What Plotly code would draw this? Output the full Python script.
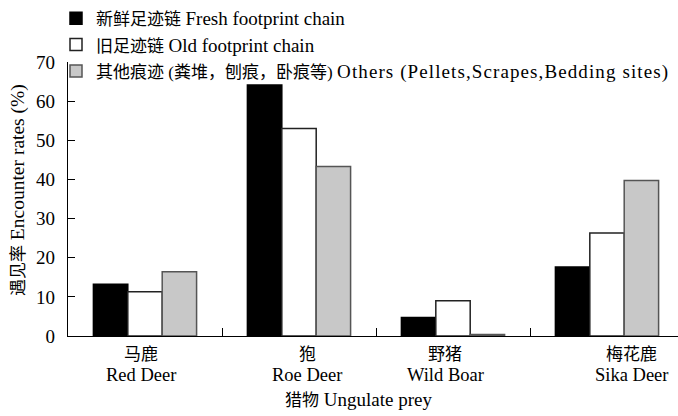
import plotly.graph_objects as go

cat_cn = ["马鹿", "狍", "野猪", "梅花鹿"]
cat_en = ["Red Deer", "Roe Deer", "Wild Boar", "Sika Deer"]
fresh = [13.2, 64.1, 4.7, 17.6]
old = [11.3, 53.0, 9.0, 26.3]
others = [16.4, 43.3, 0.4, 39.7]
series_cn = ["新鲜足迹链", "旧足迹链", "其他痕迹 (粪堆，刨痕，卧痕等)"]
series_en = ["Fresh footprint chain", "Old footprint chain", "Others (Pellets,Scrapes,Bedding sites)"]
y_ticks = [0, 10, 20, 30, 40, 50, 60, 70]
x_title_cn, x_title_en = "猎物", "Ungulate prey"
y_title_cn, y_title_en = "遇见率", "Encounter rates (%)"

W, H = 678, 416
PLOT_L, PLOT_T, PLOT_B = 68, 62, 336   # pixel frame of the plotting area
FONT = "Liberation Serif, Times New Roman, Noto Sans CJK SC, serif"
CJK = "<span style='font-size:17px'>{}</span>"
LAT = "<span style='font-size:19px'>{}</span>"
WIDE = "<span style='font-size:19px;letter-spacing:1.1px'>{}</span>"

categories = [f"{c} {e}" for c, e in zip(cat_cn, cat_en)]

styles = [
    dict(color="#000000", line=dict(color="#000000", width=1.5)),
    dict(color="#ffffff", line=dict(color="#222222", width=1.5)),
    dict(color="#c8c8c8", line=dict(color="#555555", width=1.5)),
]
en_fmt = [LAT, LAT, WIDE]

fig = go.Figure()
for cn, en, fmt, vals, st in zip(series_cn, series_en, en_fmt, [fresh, old, others], styles):
    fig.add_trace(go.Bar(x=categories, y=vals, name=CJK.format(cn) + " " + fmt.format(en), marker=st))

# category labels (slightly offset as in the reference)
label_shifts = [-4, 8, -8, 24]
for cat, cn, en, dx in zip(categories, cat_cn, cat_en, label_shifts):
    fig.add_annotation(x=cat, y=0, xref="x", yref="y", text=cn, showarrow=False,
                       yanchor="middle", yshift=-18, xshift=dx,
                       font=dict(family=FONT, size=17, color="#000"))
    fig.add_annotation(x=cat, y=0, xref="x", yref="y", text=en, showarrow=False,
                       yanchor="middle", yshift=-39, xshift=dx,
                       font=dict(family=FONT, size=18.5, color="#000"))

paper_h = PLOT_B  # margin t=0, b = H - PLOT_B
fig.add_annotation(x=358 / W, y=0, xref="paper", yref="paper",
                   text=CJK.format(x_title_cn) + " " + x_title_en, showarrow=False,
                   yanchor="middle", yshift=-63,
                   font=dict(family=FONT, size=19, color="#000"))
fig.add_annotation(x=18 / W, y=(PLOT_B - 190) / paper_h, xref="paper", yref="paper", textangle=-90,
                   text=CJK.format(y_title_cn) + " " + y_title_en, showarrow=False,
                   xanchor="center", yanchor="middle",
                   font=dict(family=FONT, size=19.5, color="#000"))

fig.update_layout(
    width=W, height=H,
    margin=dict(l=0, r=0, t=0, b=H - PLOT_B),
    paper_bgcolor="white", plot_bgcolor="white",
    barmode="group", bargap=0.33, bargroupgap=0,
    font=dict(family=FONT, size=18, color="#000"),
    legend=dict(x=56 / W, y=1.0, xanchor="left", yanchor="top",
                bgcolor="rgba(0,0,0,0)", font=dict(family=FONT, size=18, color="#000"),
                traceorder="normal", itemwidth=30),
    showlegend=True,
)
fig.update_xaxes(
    domain=[PLOT_L / W, 1],
    type="category", range=[-0.5, 3.461], showline=True, linecolor="#000", linewidth=1.2,
    ticks="inside", ticklen=8, tickcolor="#000", tickson="boundaries",
    showticklabels=False, showgrid=False, zeroline=False, automargin=False,
)
fig.update_yaxes(
    domain=[0, (PLOT_B - PLOT_T) / paper_h],
    range=[0, 70], tickvals=y_ticks, showline=True, linecolor="#000", linewidth=1.2,
    ticks="inside", ticklen=7, tickcolor="#000", ticklabelstandoff=8,
    showgrid=False, zeroline=False, automargin=False,
    tickfont=dict(family=FONT, size=19, color="#000"),
)
fig.write_html(
    "out.html",
    config={"displayModeBar": False},
    post_script="document.body.style.margin='0px';document.body.style.overflow='hidden';",
)
